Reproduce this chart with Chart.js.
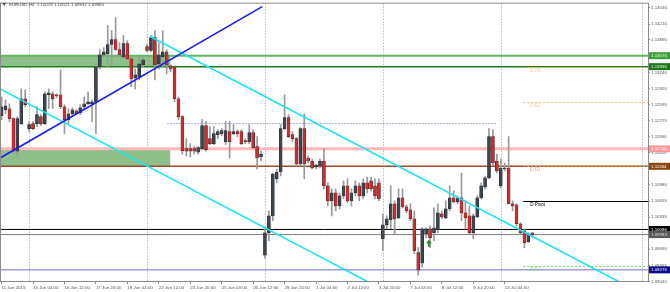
<!DOCTYPE html>
<html>
<head>
<meta charset="utf-8">
<script src="https://cdn.jsdelivr.net/npm/chart.js@4.4.1/dist/chart.umd.min.js"></script>
<style>
  html, body { margin: 0; padding: 0; background: #fff; }
  #wrap { width: 670px; height: 292px; }
</style>
</head>
<body>
<div id="wrap"><canvas id="chart"></canvas></div>
<script>
// EURUSD H4, 11 Jun - 14 Jul 2015 (one value per 4h bar)
const symbol = 'EURUSD,H4';
const opens = [
  1.1237,1.1249,1.1251,1.1231,1.1166,1.1221,1.1271,1.1211,1.1221,1.1221,
  1.1235,1.1221,1.1279,1.1281,1.1279,1.1279,1.1255,1.1229,1.1241,1.1247,
  1.1243,1.1255,1.1261,1.1261,1.1265,1.1335,1.1359,1.1361,1.1380,1.1390,
  1.1370,1.1355,1.1382,1.1351,1.1313,1.1315,1.1339,1.1376,1.1368,1.1394,
  1.1341,1.1355,1.1365,1.1337,1.1335,1.1271,1.1235,1.1171,1.1171,1.1171,
  1.1164,1.1171,1.1217,1.1191,1.1181,1.1199,1.1201,1.1185,1.1205,1.1201,
  1.1205,1.1205,1.1187,1.1185,1.1203,1.1175,1.1154,1.0957,1.1002,1.1036,
  1.1110,1.1124,1.1211,1.1233,1.1199,1.1191,1.1140,1.1211,1.1152,1.1146,
  1.1134,1.1136,1.1146,1.1096,1.1066,1.1082,1.1056,1.1076,1.1096,1.1066,
  1.1082,1.1096,1.1076,1.1102,1.1106,1.1096,1.1102,1.0990,1.1018,1.1028,
  1.1060,1.1032,1.1072,1.1054,1.1048,1.1030,1.0962,1.0941,1.1000,1.1010,
  1.1002,1.1008,1.1040,1.1032,1.1050,1.1072,1.1064,1.1072,1.1042,1.1036,
  1.1002,1.1034,1.1072,1.1094,1.1112,1.1195,1.1146,1.1096,1.1130,1.1132,
  1.1060,1.1058,1.1020,1.1006,1.0984,1.10019
];
const highs = [
  1.1275,1.1269,1.1261,1.1233,1.1235,1.1291,1.1289,1.1225,1.1225,1.1255,
  1.1239,1.1285,1.1291,1.1285,1.1281,1.1329,1.1259,1.1251,1.1253,1.1249,
  1.1259,1.1275,1.1285,1.1269,1.1339,1.1370,1.1374,1.1418,1.1408,1.1434,
  1.1384,1.1398,1.1388,1.1355,1.1331,1.1355,1.1353,1.1380,1.1398,1.1408,
  1.1384,1.1408,1.1370,1.1339,1.1337,1.1275,1.1237,1.1191,1.1181,1.1175,
  1.1175,1.1229,1.1225,1.1215,1.1215,1.1209,1.1211,1.1225,1.1225,1.1219,
  1.1209,1.1209,1.1191,1.1219,1.1209,1.1195,1.1166,1.1014,1.1046,1.1122,
  1.1130,1.1219,1.1279,1.1239,1.1205,1.1193,1.1213,1.1241,1.1156,1.1150,
  1.1140,1.1150,1.1171,1.1102,1.1090,1.1090,1.1082,1.1106,1.1110,1.1090,
  1.1106,1.1102,1.1110,1.1114,1.1114,1.1110,1.1110,1.1040,1.1036,1.1096,
  1.1066,1.1090,1.1090,1.1058,1.1060,1.1046,1.0972,1.1012,1.1012,1.1016,
  1.1052,1.1060,1.1046,1.1066,1.1096,1.1086,1.1076,1.1122,1.1066,1.1056,
  1.1040,1.1076,1.1102,1.1116,1.1211,1.1209,1.1160,1.1150,1.1142,1.1195,
  1.1066,1.1060,1.1022,1.1010,1.1002,1.10021
];
const lows = [
  1.1229,1.1241,1.1225,1.1162,1.1156,1.1219,1.1255,1.1205,1.1209,1.1215,
  1.1217,1.1219,1.1251,1.1251,1.1273,1.1251,1.1201,1.1221,1.1237,1.1239,
  1.1239,1.1251,1.1259,1.1225,1.1201,1.1331,1.1355,1.1335,1.1339,1.1368,
  1.1355,1.1351,1.1349,1.1295,1.1291,1.1309,1.1335,1.1365,1.1365,1.1309,
  1.1331,1.1335,1.1321,1.1325,1.1265,1.1229,1.1160,1.1156,1.1154,1.1160,
  1.1160,1.1169,1.1166,1.1179,1.1179,1.1191,1.1197,1.1179,1.1152,1.1199,
  1.1195,1.1179,1.1181,1.1181,1.1171,1.1130,1.1146,1.0951,1.0986,1.1026,
  1.1102,1.1116,1.1209,1.1193,1.1185,1.1136,1.1136,1.1110,1.1142,1.1130,
  1.1130,1.1132,1.1090,1.1056,1.1036,1.1046,1.1050,1.1070,1.1062,1.1056,
  1.1076,1.1066,1.1070,1.1082,1.1086,1.1070,1.1066,1.0966,1.1010,1.1010,
  1.1000,1.1030,1.1052,1.1042,1.1026,1.0960,1.0917,1.0933,1.0992,1.0972,
  1.0986,1.1002,1.1030,1.1030,1.1046,1.1062,1.1060,1.1026,1.1010,1.1000,
  1.0990,1.1032,1.1070,1.1090,1.1110,1.1136,1.1122,1.1092,1.1126,1.1060,
  1.1046,1.1016,1.1000,1.0972,1.0982,1.09932
];
const closes = [
  1.1255,1.1257,1.1231,1.1166,1.1231,1.1271,1.1259,1.1219,1.1211,1.1239,
  1.1221,1.1281,1.1283,1.1271,1.1277,1.1255,1.1229,1.1241,1.1249,1.1241,
  1.1253,1.1261,1.1265,1.1265,1.1335,1.1359,1.1365,1.1380,1.1390,1.1370,
  1.1359,1.1382,1.1351,1.1311,1.1319,1.1341,1.1349,1.1368,1.1394,1.1339,
  1.1359,1.1365,1.1339,1.1331,1.1271,1.1235,1.1167,1.1166,1.1166,1.1166,
  1.1173,1.1217,1.1169,1.1181,1.1201,1.1205,1.1207,1.1207,1.1185,1.1205,
  1.1201,1.1181,1.1185,1.1203,1.1173,1.1152,1.1160,1.1002,1.1036,1.1120,
  1.1124,1.1211,1.1233,1.1195,1.1191,1.1140,1.1211,1.1140,1.1146,1.1132,
  1.1138,1.1146,1.1096,1.1066,1.1082,1.1056,1.1076,1.1096,1.1066,1.1082,
  1.1096,1.1076,1.1102,1.1090,1.1090,1.1076,1.1070,1.1018,1.1030,1.1060,
  1.1030,1.1072,1.1054,1.1046,1.1030,1.0966,1.0927,1.1010,1.1010,1.0992,
  1.1012,1.1042,1.1034,1.1050,1.1072,1.1064,1.1072,1.1042,1.1032,1.1002,
  1.1036,1.1072,1.1096,1.1112,1.1195,1.1142,1.1126,1.1132,1.1132,1.1060,
  1.1056,1.1020,1.1002,1.0982,1.1000,1.09983
];

// time axis labels (every 8th bar) and price ticks
const xTickBars = [0, 8, 16, 24, 32, 40, 48, 56, 64, 72, 80, 88, 96, 104, 112, 120, 128];
const xTickLabels = ['11 Jun 2015', '15 Jun 04:00', '16 Jun 12:00', '17 Jun 20:00', '19 Jun 04:00',
  '22 Jun 12:00', '23 Jun 20:00', '25 Jun 04:00', '26 Jun 12:00', '29 Jun 20:00', '1 Jul 04:00',
  '2 Jul 12:00', '3 Jul 20:00', '7 Jul 04:00', '8 Jul 12:00', '9 Jul 20:00', '13 Jul 04:00'];
const yTickValues = [1.14535, 1.14210, 1.13890, 1.13240, 1.12920, 1.12595, 1.12275, 1.11950,
  1.11625, 1.10980, 1.10655, 1.10335, 1.09690, 1.09365, 1.09040];
const separatorBars = [7, 37, 67, 97, 127, 162.9];

// horizontal price levels drawn across the chart
const levelValues = [1.13575, 1.13355, 1.11705, 1.11354, 1.10086, 1.09983, 1.09275];
const zoneTops = [1.13575, 1.11705];
const zoneBottoms = [1.13355, 1.11354];
const zoneEndBar = 42.9;
const dottedLevel = 1.1223;
const dottedFromBar = 42.2;
const dottedToBar = 126;

// daily pivots
const pivotNames = ['D R3', 'D R2', 'D R1', 'D Pivot', 'D S1'];
const pivotValues = [1.1335, 1.1265, 1.1136, 1.1066, 1.0935];
const pivotFromBar = 132.7;

// trend lines (bar, price)
const blueTrend = [{x: -0.4, y: 1.1152}, {x: 66.3, y: 1.1456}];
const cyanUpper = [{x: 37.8, y: 1.1396}, {x: 164, y: 1.0875}];
const cyanLower = [{x: -0.4, y: 1.1291}, {x: 95, y: 1.0896}];

const arrowBar = 108.7;
const arrowPrice = 1.0988;

// styles
const levelStyles = [
  {line: '#62b862', w: 2, box: '#3f9f3f', text: '#e8ffe8'},
  {line: '#1f7f1f', w: 1.5, box: '#1c7a1c', text: '#e8ffe8'},
  {line: '#ffb8b8', w: 3, box: '#ff9a9a', text: '#ffffff'},
  {line: '#9a4e24', w: 1.5, box: '#8b4513', text: '#ffffff'},
  {line: '#000000', w: 1, box: '#000000', text: '#ffffff'},
  {line: '#7f7f7f', w: 1, box: '#5a5a5a', text: '#dddddd'},
  {line: '#9c9ce0', w: 1.5, box: '#0b0b8a', text: '#ffffff'}
];
const pivotStyles = [
  {c: '#ffb768', dash: [2, 2], t: '#ffc890'},
  {c: '#ffb768', dash: [2, 2], t: '#ffc890'},
  {c: '#e0954e', dash: [2, 2], t: '#e8a060'},
  {c: '#000000', dash: [], t: '#000000'},
  {c: '#66dd66', dash: [2, 2], t: '#88dd88'}
];
const tickFont = {family: 'Liberation Sans', size: 4.4};

const n = opens.length;
const bars = opens.map((o, i) => i);
const isUp = bars.map(i => closes[i] >= opens[i]);

const overlay = {
  id: 'overlay',
  beforeDatasetsDraw(chart) {
    const {ctx, chartArea: a, scales: {x, y}} = chart;
    ctx.save();
    ctx.beginPath();
    ctx.rect(a.left, a.top, a.width, a.height);
    ctx.clip();

    // weekly separators
    ctx.strokeStyle = '#9c9c9c';
    ctx.lineWidth = 1;
    ctx.setLineDash([1, 2]);
    separatorBars.forEach(b => {
      const px = Math.round(x.getPixelForValue(b)) + 0.5;
      ctx.beginPath(); ctx.moveTo(px, a.top); ctx.lineTo(px, a.bottom); ctx.stroke();
    });
    ctx.setLineDash([]);

    // zones
    zoneTops.forEach((t, k) => {
      const y0 = y.getPixelForValue(t), y1 = y.getPixelForValue(zoneBottoms[k]);
      const x1 = x.getPixelForValue(zoneEndBar);
      ctx.fillStyle = '#8dbf89';
      ctx.fillRect(a.left, y0, x1 - a.left, y1 - y0);
    });

    // levels
    levelValues.forEach((v, k) => {
      const st = levelStyles[k];
      const py = y.getPixelForValue(v);
      ctx.strokeStyle = st.line; ctx.lineWidth = st.w;
      ctx.beginPath(); ctx.moveTo(a.left, py); ctx.lineTo(a.right, py); ctx.stroke();
    });

    // dotted blue level
    ctx.strokeStyle = '#6a6af0'; ctx.lineWidth = 1; ctx.setLineDash([1, 2]);
    const dy = Math.round(y.getPixelForValue(dottedLevel)) + 0.5;
    ctx.beginPath();
    ctx.moveTo(x.getPixelForValue(dottedFromBar), dy);
    ctx.lineTo(x.getPixelForValue(dottedToBar), dy);
    ctx.stroke();

    // pivots
    const px0 = x.getPixelForValue(pivotFromBar);
    pivotValues.forEach((v, k) => {
      const st = pivotStyles[k];
      const py = Math.round(y.getPixelForValue(v)) + 0.5;
      ctx.strokeStyle = st.c; ctx.lineWidth = 1; ctx.setLineDash(st.dash);
      ctx.beginPath(); ctx.moveTo(px0, py); ctx.lineTo(a.right, py); ctx.stroke();
    });
    ctx.setLineDash([]);
    ctx.restore();
  },
  afterDraw(chart) {
    const {ctx, chartArea: a, scales: {x, y}} = chart;
    ctx.save();
    // frame
    ctx.strokeStyle = '#8a8a8a'; ctx.lineWidth = 1;
    ctx.strokeRect(a.left - 0.5, a.top - 0.5, a.width + 1, a.height + 1);

    // pivot captions
    ctx.font = '4.6px "Liberation Sans"';
    ctx.textBaseline = 'top'; ctx.textAlign = 'left';
    const px0 = x.getPixelForValue(pivotFromBar);
    pivotValues.forEach((v, k) => {
      ctx.fillStyle = pivotStyles[k].t;
      ctx.fillText(pivotNames[k], px0 + 7, y.getPixelForValue(v) + 1.5);
    });

    // price boxes on the right
    ctx.font = '4.4px "Liberation Sans"';
    ctx.textBaseline = 'middle';
    levelValues.forEach((v, k) => {
      const st = levelStyles[k];
      const py = y.getPixelForValue(v);
      ctx.fillStyle = st.box;
      ctx.fillRect(a.right + 1, py - 3.5, chart.width - a.right - 1, 7);
      ctx.fillStyle = st.text;
      ctx.fillText(v.toFixed(5), a.right + 3, py + 0.3);
    });

    // green arrow
    const ax = x.getPixelForValue(arrowBar), ay = y.getPixelForValue(arrowPrice);
    ctx.fillStyle = '#2c8a2c';
    ctx.beginPath();
    ctx.moveTo(ax, ay); ctx.lineTo(ax + 3, ay + 3.5); ctx.lineTo(ax + 1, ay + 3.5);
    ctx.lineTo(ax + 1, ay + 7); ctx.lineTo(ax - 1, ay + 7); ctx.lineTo(ax - 1, ay + 3.5);
    ctx.lineTo(ax - 3, ay + 3.5); ctx.closePath(); ctx.fill();

    // title
    ctx.fillStyle = '#444';
    ctx.beginPath(); ctx.moveTo(2.5, 3); ctx.lineTo(6, 3); ctx.lineTo(4.25, 6); ctx.closePath(); ctx.fill();
    ctx.font = '4.4px "Liberation Sans"';
    ctx.textBaseline = 'top';
    const last = n - 1;
    ctx.fillText(symbol + '  ' + [opens[last], highs[last], lows[last], closes[last]].map(v => v.toFixed(5)).join(' '), 9, 2.5);
    ctx.restore();
  }
};

new Chart(document.getElementById('chart'), {
  type: 'bar',
  data: {
    datasets: [
      {type: 'line', data: blueTrend, borderColor: '#1b1bf5', borderWidth: 1.6, pointRadius: 0, order: 0},
      {type: 'line', data: cyanUpper, borderColor: '#1ee3f2', borderWidth: 1.6, pointRadius: 0, order: 0},
      {type: 'line', data: cyanLower, borderColor: '#1ee3f2', borderWidth: 1.6, pointRadius: 0, order: 0},
      {
        data: bars.map(i => ({x: i, y: [lows[i], highs[i]]})),
        backgroundColor: '#9a9a9a', barThickness: 1, grouped: false, order: 2
      },
      {
        data: bars.map(i => ({x: i, y: [opens[i], closes[i]]})),
        backgroundColor: bars.map(i => isUp[i] ? '#3b4650' : '#d42a2e'),
        borderColor: '#2a2a2a', borderWidth: 0.5, borderSkipped: false,
        barThickness: 3, minBarLength: 1, grouped: false, order: 1
      }
    ]
  },
  options: {
    responsive: true,
    maintainAspectRatio: false,
    animation: false,
    devicePixelRatio: 1,
    layout: {padding: {left: 1, top: 1, right: 0, bottom: 0}},
    plugins: {legend: {display: false}, tooltip: {enabled: false}},
    scales: {
      x: {
        type: 'linear', min: -0.15, max: 164.45, offset: false,
        grid: {display: true, drawOnChartArea: false, tickLength: 3, color: '#8a8a8a', offset: false},
        border: {display: true, color: '#8a8a8a'},
        afterBuildTicks: s => { s.ticks = xTickBars.map(v => ({value: v})); },
        afterFit: s => { s.height = 11; },
        ticks: {
          autoSkip: false, maxRotation: 0, align: 'start', padding: 1,
          color: '#555', font: tickFont,
          callback: (v, i) => xTickLabels[i]
        }
      },
      y: {
        position: 'right', min: 1.09051, max: 1.1462, beginAtZero: false,
        grid: {display: true, drawOnChartArea: false, tickLength: 2, color: '#8a8a8a'},
        border: {display: true, color: '#8a8a8a'},
        afterBuildTicks: s => { s.ticks = yTickValues.map(v => ({value: v})); },
        afterFit: s => { s.width = 22; },
        ticks: {padding: 1, color: '#555', font: tickFont, callback: v => v.toFixed(5)}
      }
    }
  },
  plugins: [overlay]
});
</script>
</body>
</html>
